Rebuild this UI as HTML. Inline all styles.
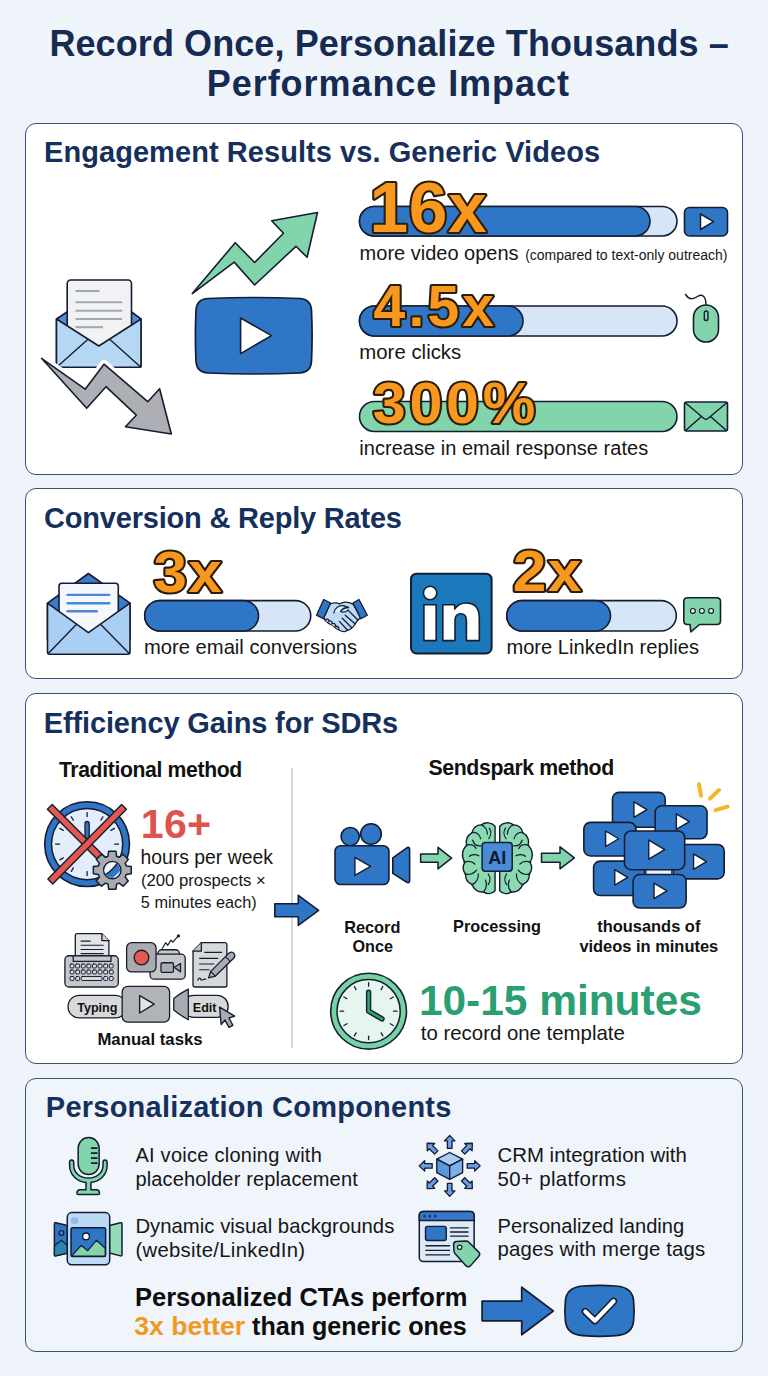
<!DOCTYPE html>
<html><head><meta charset="utf-8">
<style>
*{margin:0;padding:0;box-sizing:border-box}
html,body{width:768px;height:1376px;overflow:hidden}
body{background:#eff3fa;font-family:"Liberation Sans",sans-serif;position:relative;color:#161616}
.card{position:absolute;left:25px;width:718px;background:#fff;border:1.6px solid #3c5273;border-radius:11px}
.x{position:absolute;white-space:nowrap;line-height:1}
.t{font-weight:bold;color:#152b52;font-size:35px}
.h{font-weight:bold;color:#16305c;font-size:29px;left:46px}
.b{font-weight:bold}
.c{text-align:center;transform:translateX(-50%)}
svg{position:absolute;left:0;top:0;overflow:visible;font-family:"Liberation Sans",sans-serif}
</style></head><body>
<div class="x t" id="t1" style="left:49.4px;top:25.7px;font-size:36px;letter-spacing:.09px">Record Once, Personalize Thousands –</div>
<div class="x t" id="t2" style="left:206.8px;top:65.7px;font-size:36px;letter-spacing:.94px">Performance Impact</div>

<div class="card" style="top:123px;height:351.6px"></div>
<div class="card" style="top:488.4px;height:190.2px"></div>
<div class="card" style="top:692.8px;height:371.3px"></div>
<div class="card" style="top:1077.6px;height:274.6px;background:#f0f4fb"></div>

<div class="x h" id="h1" style="top:138.4px;left:44px;letter-spacing:.06px">Engagement Results vs. Generic Videos</div>
<div class="x h" id="h2" style="top:503.9px;left:44px;letter-spacing:-.2px">Conversion &amp; Reply Rates</div>
<div class="x h" id="h3" style="top:708.7px;left:43.8px;letter-spacing:-.14px">Efficiency Gains for SDRs</div>
<div class="x h" id="h4" style="top:1093.3px;left:45.8px;letter-spacing:.24px">Personalization Components</div>

<div class="x" id="s1a" style="left:359.6px;top:243.3px;font-size:20px">more video opens <span style="font-size:14px;margin-left:1px">(compared to text-only outreach)</span></div>
<div class="x" id="s1b" style="left:359.3px;top:341.7px;font-size:20.4px">more clicks</div>
<div class="x" id="s1c" style="left:359.3px;top:437.5px;font-size:20px;letter-spacing:.03px">increase in email response rates</div>
<div class="x" id="s2a" style="left:144px;top:637.2px;font-size:20.2px">more email conversions</div>
<div class="x" id="s2b" style="left:506.4px;top:637.2px;font-size:20.15px">more LinkedIn replies</div>

<div class="x b" style="left:58.9px;top:758.75px;font-size:21.2px;color:#111;letter-spacing:-0.36px;">Traditional method</div>
<div class="x b" style="left:428.5px;top:758.47px;font-size:21.3px;color:#111;letter-spacing:-0.4px;">Sendspark method</div>
<div class="x b" style="left:140.7px;top:804.32px;font-size:41.2px;color:#db554c;letter-spacing:0.3px;">16+</div>
<div class="x" style="left:140.6px;top:848.02px;font-size:19.35px;">hours per week</div>
<div class="x" style="left:141px;top:873.46px;font-size:16.7px;">(200 prospects ×</div>
<div class="x" style="left:140.8px;top:893.50px;font-size:16.3px;">5 minutes each)</div>
<div class="x b" style="left:97.4px;top:1032.02px;font-size:16.75px;color:#111;">Manual tasks</div>
<div class="x b c" style="left:372.3px;top:919.00px;font-size:16.3px;color:#111;">Record</div>
<div class="x b c" style="left:372.7px;top:938.39px;font-size:16.2px;color:#111;">Once</div>
<div class="x b c" style="left:497px;top:918.30px;font-size:16.3px;color:#111;">Processing</div>
<div class="x b c" style="left:648.8px;top:918.38px;font-size:16.45px;color:#111;">thousands of</div>
<div class="x b c" style="left:648.8px;top:938.28px;font-size:16.45px;color:#111;">videos in minutes</div>
<div class="x b" style="left:418.9px;top:979.62px;font-size:42.5px;color:#2a9f70;letter-spacing:-0.04px;">10-15 minutes</div>
<div class="x" style="left:420.8px;top:1023.13px;font-size:20.4px;">to record one template</div>
<div class="x" style="left:135.4px;top:1145.27px;font-size:20px;letter-spacing:0.26px;">AI voice cloning with</div>
<div class="x" style="left:135.4px;top:1169.27px;font-size:20px;letter-spacing:0.15px;">placeholder replacement</div>
<div class="x" style="left:135.4px;top:1215.92px;font-size:20.3px;letter-spacing:0.03px;">Dynamic visual backgrounds</div>
<div class="x" style="left:135.4px;top:1239.62px;font-size:20.3px;letter-spacing:0.3px;">(website/LinkedIn)</div>
<div class="x" style="left:497.5px;top:1144.93px;font-size:20.4px;">CRM integration with</div>
<div class="x" style="left:497.6px;top:1168.93px;font-size:20.4px;letter-spacing:0.35px;">50+ platforms</div>
<div class="x" style="left:497.6px;top:1216.09px;font-size:20.1px;">Personalized landing</div>
<div class="x" style="left:497.6px;top:1239.23px;font-size:20.4px;letter-spacing:0.12px;">pages with merge tags</div>
<div class="x b" style="left:135px;top:1285.01px;font-size:25.5px;color:#0d0d0d;">Personalized CTAs perform</div>
<div class="x b" style="left:134.2px;top:1312.95px;font-size:25.1px;color:#0d0d0d;"><span style="color:#f0991f;font-size:26.6px">3x better</span> than generic ones</div>
<svg width="768" height="1376" viewBox="0 0 768 1376">
<rect x="359.5" y="206.5" width="317.5" height="29.5" rx="14.75" fill="#d6e6f6" stroke="#141d31" stroke-width="1.6"/>
<rect x="359.5" y="206.5" width="290.5" height="29.5" rx="14.75" fill="#3076c7" stroke="#141d31" stroke-width="1.6"/>
<rect x="359.5" y="306" width="317.5" height="30" rx="15.0" fill="#d6e6f6" stroke="#141d31" stroke-width="1.6"/>
<rect x="359.5" y="306" width="163.5" height="30" rx="15.0" fill="#3076c7" stroke="#141d31" stroke-width="1.6"/>
<rect x="359.5" y="401.5" width="317.5" height="30.0" rx="15.0" fill="#82d5aa" stroke="#141d31" stroke-width="1.6"/>
<text transform="translate(369.6 231.6) scale(1 1)" font-size="69.5" font-weight="bold" letter-spacing="0.5" fill="#f9981e" stroke="#2a1d0c" stroke-width="4.2" stroke-linejoin="round" paint-order="stroke fill">16x</text>
<text transform="translate(373.5 325.5) scale(1 1)" font-size="57" font-weight="bold" letter-spacing="3.2" fill="#f9981e" stroke="#2a1d0c" stroke-width="4.2" stroke-linejoin="round" paint-order="stroke fill">4.5x</text>
<text transform="translate(372.8 422.7) scale(1.038 1)" font-size="57" font-weight="bold" letter-spacing="3.6" fill="#f9981e" stroke="#2a1d0c" stroke-width="4.2" stroke-linejoin="round" paint-order="stroke fill">300%</text>
<rect x="684.5" y="207.5" width="43" height="28.5" rx="5" fill="#3076c7" stroke="#141d31" stroke-width="1.6"/>
<polygon points="700.5,214 700.5,229.5 713.5,221.7" fill="#fff" stroke="#141d31" stroke-width="1.5" stroke-linejoin="round" />
<path d="M706 305 C706 296 702 293.5 697.5 296.5 C693 299.5 689 300 685.5 294.5" fill="none" stroke="#141d31" stroke-width="1.5" stroke-linecap="round"/>
<rect x="693.5" y="305" width="25" height="37" rx="12.5" fill="#82d5aa" stroke="#141d31" stroke-width="1.6"/>
<rect x="704.3" y="311" width="3.6" height="9.5" rx="1.8" fill="#82d5aa" stroke="#141d31" stroke-width="1.4"/>
<rect x="684.5" y="402" width="43" height="29" rx="2" fill="#82d5aa" stroke="#141d31" stroke-width="1.6"/>
<path d="M685 431 L701.5 416.5 M727 431 L710.5 416.5 M685 402.5 L704 418.5 Q706 420 708 418.5 L727 402.5" fill="none" stroke="#141d31" stroke-width="1.5" stroke-linejoin="round"/>
<polygon points="56.5,319 67,312 131.5,312 141,319 141,367 56.5,367" fill="#4f8fd6" stroke="#141d31" stroke-width="1.6" stroke-linejoin="round" />
<rect x="67.2" y="280" width="64.3" height="75" rx="3.5" fill="#f1f2f4" stroke="#141d31" stroke-width="1.6"/>
<line x1="75.5" y1="291" x2="99.5" y2="291" stroke="#a5a8ae" stroke-width="2.1"/>
<line x1="75.5" y1="302.3" x2="122.3" y2="302.3" stroke="#a5a8ae" stroke-width="2.1"/>
<line x1="75.5" y1="310.7" x2="122.3" y2="310.7" stroke="#a5a8ae" stroke-width="2.1"/>
<line x1="75.5" y1="319" x2="122.3" y2="319" stroke="#a5a8ae" stroke-width="2.1"/>
<line x1="75.5" y1="327.2" x2="103" y2="327.2" stroke="#a5a8ae" stroke-width="2.1"/>
<path d="M56.5 319 L98.8 346 L141 319 L141 365 Q141 367.3 139 367.3 L58.5 367.3 Q56.5 367.3 56.5 365 Z" fill="#b5d7f4" stroke="#141d31" stroke-width="1.6" stroke-linejoin="round"/>
<path d="M57.5 366.5 L88 339.3 M140 366.5 L109.7 339.3" fill="none" stroke="#141d31" stroke-width="1.4"/>
<polygon points="41.5,358.3 85.2,389.2 104,364.2 147.7,401.7 159.6,388.8 171.3,434 125.4,426.7 136.3,415.2 106,386.7 86.7,408.3" fill="#fff" stroke="#fff" stroke-width="8.5" stroke-linejoin="round" />
<polygon points="41.5,358.3 85.2,389.2 104,364.2 147.7,401.7 159.6,388.8 171.3,434 125.4,426.7 136.3,415.2 106,386.7 86.7,408.3" fill="#adafb4" stroke="#141d31" stroke-width="1.6" stroke-linejoin="round" />
<polygon points="192.3,293.6 235.2,242.7 254.6,262.5 283.5,233.3 271.7,220.8 317.5,212.5 307.1,257.3 296,246.3 254.6,285 234.2,262.1" fill="#82d5aa" stroke="#141d31" stroke-width="1.6" stroke-linejoin="round" />
<path d="M208 298.5 Q253.5 296.5 299.5 298.5 Q311 299 311.5 310.5 Q312.7 335.5 311.5 361 Q311 372.5 299.5 373 Q253.5 375 208 373 Q196.5 372.5 196 361 Q194.8 335.5 196 310.5 Q196.5 299 208 298.5 Z" fill="#3076c7" stroke="#141d31" stroke-width="1.7"/>
<polygon points="240.6,318 240.6,353.6 271.5,335.6" fill="#fff" stroke="#141d31" stroke-width="1.6" stroke-linejoin="round" />
<polygon points="47.5,603.2 88.4,573.5 130,603.2 130,640 47.5,640" fill="#3a7bcb" stroke="#141d31" stroke-width="1.6" stroke-linejoin="round" />
<path d="M59 635 L59 586.2 Q59 583.2 62 583.2 L115.3 583.2 Q118.3 583.2 118.3 586.2 L118.3 635 Z" fill="#f4f7fb" stroke="#141d31" stroke-width="1.6"/>
<line x1="67.6" y1="594.9" x2="109.2" y2="594.9" stroke="#4a88d2" stroke-width="2.4" stroke-linecap="round"/>
<line x1="67.6" y1="603.2" x2="109.2" y2="603.2" stroke="#4a88d2" stroke-width="2.4" stroke-linecap="round"/>
<line x1="67.6" y1="611.3" x2="96.7" y2="611.3" stroke="#4a88d2" stroke-width="2.4" stroke-linecap="round"/>
<path d="M47.5 603.2 L88.4 632.7 L130 603.2 L130 652 Q130 654.2 128 654.2 L49.5 654.2 Q47.5 654.2 47.5 652 Z" fill="#a9d0f4" stroke="#141d31" stroke-width="1.6" stroke-linejoin="round"/>
<path d="M48.5 653.3 L76.5 624.3 M129 653.3 L100.5 624.3" fill="none" stroke="#141d31" stroke-width="1.4"/>
<rect x="144.7" y="600.6" width="166.0" height="30.399999999999977" rx="15.199999999999989" fill="#d6e6f6" stroke="#141d31" stroke-width="1.6"/>
<rect x="144.7" y="600.6" width="113.80000000000001" height="30.399999999999977" rx="15.199999999999989" fill="#3076c7" stroke="#141d31" stroke-width="1.6"/>
<text transform="translate(153.6 591.5) scale(1.055 1)" font-size="57" font-weight="bold" letter-spacing="1.2" fill="#f9981e" stroke="#2a1d0c" stroke-width="4.2" stroke-linejoin="round" paint-order="stroke fill">3x</text>
<g stroke="#141d31" stroke-width="1.3" stroke-linejoin="round" stroke-linecap="round" fill="none">
<path d="M 329.6,604.4 C 333.5,601.9 337.0,602.7 339.8,603.8 C 343.3,601.5 348.2,601.5 353.4,604.4 L 360.5,617.5 C 357.9,620.0 356.6,621.4 355.4,623.4 C 353.8,626.9 349.5,630.0 345.2,631.4 C 342.5,632.1 340.5,630.8 339.0,630.0 C 336.4,629.0 334.5,627.3 332.9,625.5 C 329.6,624.1 326.7,622.2 325.1,620.0 L 323.6,617.9 Z" fill="#bfdbf6"/>
<path d="M 333.9,612.8 C 334.7,607.7 339.4,604.8 344.8,606.0 L 348.6,607.5 C 344.8,607.5 341.7,609.3 340.5,611.4 C 343.3,612.8 346.4,611.6 348.0,610.1" fill="#e4f0fb"/>
<path d="M 348.0,610.1 L 357.9,620.0"/><path d="M 345.2,615.2 L 355.0,623.8 M 342.3,618.3 L 351.5,627.5 M 339.4,621.4 L 347.6,630.2"/>
<path d="M 325.1,620.0 C 326.7,618.3 329.2,619.1 328.8,621.4 C 330.4,620.0 332.9,621.4 332.0,623.8 C 333.7,622.6 336.4,624.1 335.3,626.5 C 337.0,625.7 339.8,627.3 338.6,629.6" fill="#bfdbf6"/>
<polygon points="316.5,615.2 323.7,599.5 330.6,603 323.4,618.7" fill="#3076c7"/>
<polygon points="359,599.5 367.3,615.2 360.8,618.7 353,603" fill="#3076c7"/>
</g>
<rect x="411" y="573.7" width="80.6" height="79.8" rx="5.5" fill="#1b78ba" stroke="#141d31" stroke-width="2"/>
<g transform="translate(1.1 0)" fill="#fff" stroke="#141d31" stroke-width="1.6" stroke-linejoin="round"><circle cx="429" cy="593" r="6.7"/><rect x="422.8" y="604.8" width="12.3" height="35.8"/><path d="M441.7 640.6 L441.7 604.8 L453.6 604.8 L453.6 609 Q457.5 603 465 603 Q478.2 603 478.2 618 L478.2 640.6 L465.3 640.6 L465.3 620.5 Q465.3 613.8 459.7 613.8 Q453.9 613.8 453.9 620.5 L453.9 640.6 Z"/></g>
<rect x="506.8" y="600.6" width="169.49999999999994" height="30.399999999999977" rx="15.199999999999989" fill="#d6e6f6" stroke="#141d31" stroke-width="1.6"/>
<rect x="506.8" y="600.6" width="103.69999999999999" height="30.399999999999977" rx="15.199999999999989" fill="#3076c7" stroke="#141d31" stroke-width="1.6"/>
<text transform="translate(512.8 590.8) scale(1.06 1)" font-size="57" font-weight="bold" letter-spacing="1.2" fill="#f9981e" stroke="#2a1d0c" stroke-width="4.2" stroke-linejoin="round" paint-order="stroke fill">2x</text>
<path d="M687.5 597.8 L716.7 597.8 Q720.5 597.8 720.5 601.6 L720.5 620.7 Q720.5 624.5 716.7 624.5 L699.5 624.5 L690.8 631.8 L690 624.5 L687.5 624.5 Q683.8 624.5 683.8 620.7 L683.8 601.6 Q683.8 597.8 687.5 597.8 Z" fill="#82d5aa" stroke="#141d31" stroke-width="1.6" stroke-linejoin="round"/>
<circle cx="692.9" cy="610.9" r="2.4" fill="#eafaf2" stroke="#141d31" stroke-width="1.2"/>
<circle cx="701.9" cy="610.9" r="2.4" fill="#eafaf2" stroke="#141d31" stroke-width="1.2"/>
<circle cx="711.1" cy="610.9" r="2.4" fill="#eafaf2" stroke="#141d31" stroke-width="1.2"/>
<line x1="292" y1="768" x2="292" y2="1048" stroke="#c3cddb" stroke-width="1.5"/>
<circle cx="87.1" cy="844.1" r="42.4" fill="#3076c7" stroke="#141d31" stroke-width="1.6"/>
<circle cx="87.1" cy="844.1" r="35.6" fill="#e4eefa" stroke="#141d31" stroke-width="1.5"/>
<line x1="87.10" y1="816.60" x2="87.10" y2="812.60" stroke="#141d31" stroke-width="1.3" stroke-linecap="round"/>
<line x1="100.85" y1="820.28" x2="102.85" y2="816.82" stroke="#141d31" stroke-width="1.3" stroke-linecap="round"/>
<line x1="110.92" y1="830.35" x2="114.38" y2="828.35" stroke="#141d31" stroke-width="1.3" stroke-linecap="round"/>
<line x1="114.60" y1="844.10" x2="118.60" y2="844.10" stroke="#141d31" stroke-width="1.3" stroke-linecap="round"/>
<line x1="110.92" y1="857.85" x2="114.38" y2="859.85" stroke="#141d31" stroke-width="1.3" stroke-linecap="round"/>
<line x1="100.85" y1="867.92" x2="102.85" y2="871.38" stroke="#141d31" stroke-width="1.3" stroke-linecap="round"/>
<line x1="87.10" y1="871.60" x2="87.10" y2="875.60" stroke="#141d31" stroke-width="1.3" stroke-linecap="round"/>
<line x1="73.35" y1="867.92" x2="71.35" y2="871.38" stroke="#141d31" stroke-width="1.3" stroke-linecap="round"/>
<line x1="63.28" y1="857.85" x2="59.82" y2="859.85" stroke="#141d31" stroke-width="1.3" stroke-linecap="round"/>
<line x1="59.60" y1="844.10" x2="55.60" y2="844.10" stroke="#141d31" stroke-width="1.3" stroke-linecap="round"/>
<line x1="63.28" y1="830.35" x2="59.82" y2="828.35" stroke="#141d31" stroke-width="1.3" stroke-linecap="round"/>
<line x1="73.35" y1="820.28" x2="71.35" y2="816.82" stroke="#141d31" stroke-width="1.3" stroke-linecap="round"/>
<rect x="85.0" y="821.5" width="4.2" height="17" rx="2.1" fill="#3076c7" stroke="#141d31" stroke-width="1.3"/>
<polygon points="47.39583694396573,809.2041630560342 119.59583694396574,881.4041630560342 124.40416305603426,876.5958369439658 52.20416305603426,804.3958369439657" fill="#e2574f" stroke="#141d31" stroke-width="1.4" stroke-linejoin="round" />
<polygon points="121.57969133433089,804.4120917180747 47.879691334330886,879.1120917180748 52.72030866566911,883.8879082819252 126.42030866566911,809.1879082819252" fill="#e2574f" stroke="#141d31" stroke-width="1.4" stroke-linejoin="round" />
<path d="M108.66 851.25 L115.94 851.25 L116.61 856.25 L119.11 857.29 L123.12 854.22 L128.28 859.38 L125.21 863.39 L126.25 865.89 L131.25 866.56 L131.25 873.84 L126.25 874.51 L125.21 877.01 L128.28 881.02 L123.12 886.18 L119.11 883.11 L116.61 884.15 L115.94 889.15 L108.66 889.15 L107.99 884.15 L105.49 883.11 L101.48 886.18 L96.32 881.02 L99.39 877.01 L98.35 874.51 L93.35 873.84 L93.35 866.56 L98.35 865.89 L99.39 863.39 L96.32 859.38 L101.48 854.22 L105.49 857.29 L107.99 856.25 Z M120.89999999999999 870.2 A8.6 8.6 0 1 0 103.7 870.2 A8.6 8.6 0 1 0 120.89999999999999 870.2 Z" fill="#a9abb0" fill-rule="evenodd" stroke="#141d31" stroke-width="1.5" stroke-linejoin="round"/>
<clipPath id="gh"><circle cx="112.3" cy="870.2" r="7.9"/></clipPath>
<g clip-path="url(#gh)"><circle cx="112.3" cy="870.2" r="9" fill="#eef4fb"/><circle cx="87.1" cy="844.1" r="39" fill="none" stroke="#3076c7" stroke-width="6.8"/><circle cx="87.1" cy="844.1" r="35.6" fill="none" stroke="#141d31" stroke-width="1.4"/></g>
<polygon points="274.8,903.8 298.3,903.8 298.3,895.3 318.6,910.3 298.3,925.3 298.3,916.8 274.8,916.8" fill="#3076c7" stroke="#141d31" stroke-width="1.6" stroke-linejoin="round" />
<g stroke="#141d31" stroke-width="1.3" stroke-linejoin="round" stroke-linecap="round">
<path d="M 75.31,960.16 L 75.31,935.42 Q 75.31,933.59 77.14,933.59 L 101.88,933.59 L 108.91,940.62 L 108.91,960.16 Z" fill="#e4e5e7"/>
<path d="M 101.88,933.59 L 101.88,940.62 L 108.91,940.62" fill="#cfd0d3"/>
<path d="M 81.04,941.15 L 90.16,941.15 M 81.04,945.31 L 103.18,945.31 M 81.04,949.48 L 103.18,949.48 M 81.04,953.65 L 103.18,953.65" fill="none" stroke-width="1.1"/>
<rect x="64.9" y="955.73" width="53.38" height="31.25" rx="4" fill="#c6c7ca"/>
<path d="M 73.23,955.73 L 73.23,961.46 L 110.99,961.46 L 110.99,955.73" fill="none"/>
<rect x="70.1" y="964.06" width="3.9" height="3.9" rx="1" fill="#dcdddf" stroke-width="1"/>
<rect x="75.7" y="964.06" width="3.9" height="3.9" rx="1" fill="#dcdddf" stroke-width="1"/>
<rect x="81.3" y="964.06" width="3.9" height="3.9" rx="1" fill="#dcdddf" stroke-width="1"/>
<rect x="86.9" y="964.06" width="3.9" height="3.9" rx="1" fill="#dcdddf" stroke-width="1"/>
<rect x="92.5" y="964.06" width="3.9" height="3.9" rx="1" fill="#dcdddf" stroke-width="1"/>
<rect x="98.1" y="964.06" width="3.9" height="3.9" rx="1" fill="#dcdddf" stroke-width="1"/>
<rect x="103.7" y="964.06" width="3.9" height="3.9" rx="1" fill="#dcdddf" stroke-width="1"/>
<rect x="109.3" y="964.06" width="3.9" height="3.9" rx="1" fill="#dcdddf" stroke-width="1"/>
<rect x="70.1" y="970.05" width="3.9" height="3.9" rx="1" fill="#dcdddf" stroke-width="1"/>
<rect x="75.7" y="970.05" width="3.9" height="3.9" rx="1" fill="#dcdddf" stroke-width="1"/>
<rect x="81.3" y="970.05" width="3.9" height="3.9" rx="1" fill="#dcdddf" stroke-width="1"/>
<rect x="86.9" y="970.05" width="3.9" height="3.9" rx="1" fill="#dcdddf" stroke-width="1"/>
<rect x="92.5" y="970.05" width="3.9" height="3.9" rx="1" fill="#dcdddf" stroke-width="1"/>
<rect x="98.1" y="970.05" width="3.9" height="3.9" rx="1" fill="#dcdddf" stroke-width="1"/>
<rect x="103.7" y="970.05" width="3.9" height="3.9" rx="1" fill="#dcdddf" stroke-width="1"/>
<rect x="109.3" y="970.05" width="3.9" height="3.9" rx="1" fill="#dcdddf" stroke-width="1"/>
<rect x="70.1" y="976.56" width="3.9" height="3.9" rx="1" fill="#dcdddf" stroke-width="1"/>
<rect x="75.7" y="976.56" width="3.9" height="3.9" rx="1" fill="#dcdddf" stroke-width="1"/>
<rect x="103.7" y="976.56" width="3.9" height="3.9" rx="1" fill="#dcdddf" stroke-width="1"/>
<rect x="109.3" y="976.56" width="3.9" height="3.9" rx="1" fill="#dcdddf" stroke-width="1"/>
<rect x="81.3" y="976.56" width="20.70" height="3.9" rx="1" fill="#dcdddf" stroke-width="1"/>
<rect x="157.86" y="949.74" width="21.62" height="26.04" rx="4" fill="#c6c7ca"/>
<rect x="150.05" y="954.17" width="35.16" height="25.00" rx="4" fill="#c6c7ca"/>
<rect x="160.99" y="962.76" width="12.50" height="9.64" rx="1.5" fill="#a9abb0"/>
<path d="M 174.27,967.19 L 180.52,963.54 L 180.52,971.88 Z" fill="#a9abb0"/>
<path d="M 162.29,948.44 L 165.68,942.71 L 167.76,945.31 L 170.89,940.1 L 172.71,942.19 L 177.92,936.46" fill="none" stroke-width="1.2"/>
<circle cx="178.44" cy="935.94" r="1" fill="#141d31"/>
<rect x="126.61" y="942.71" width="29.43" height="29.17" rx="5" fill="#a9abb0"/>
<circle cx="141.46" cy="957.55" r="7.3" fill="#e9594f"/>
<path d="M 193.02,951.04 L 201.35,942.71 L 224.79,942.71 Q 226.88,942.71 226.88,944.79 L 226.88,984.9 Q 226.88,986.98 224.79,986.98 L 195.1,986.98 Q 193.02,986.98 193.02,984.9 Z" fill="#d7d8da"/>
<path d="M 193.02,951.04 L 201.35,951.04 L 201.35,942.71" fill="#bfc0c3"/>
<path d="M 204.74,952.34 L 221.67,952.34 M 199.53,958.33 L 217.76,958.33 M 199.53,964.06 L 213.85,964.06 M 199.53,969.79 L 209.17,969.79" fill="none" stroke-width="1.1"/>
<path d="M 197.71,980.21 C 199.01,977.08 200.83,977.86 200.83,979.69 C 201.35,980.99 203.44,978.65 206.04,979.17" fill="none" stroke-width="1.1"/>
<path d="M 208.65,977.86 L 210.73,971.35 L 228.96,953.12 Q 232.08,951.04 234.17,953.65 Q 235.73,956.25 233.65,958.33 L 215.42,976.04 Z" fill="#a9abb0"/>
<path d="M 210.73,971.35 L 215.42,976.04 M 225.57,956.51 L 230.26,961.46" fill="none" stroke-width="1.1"/>
<rect x="68.02" y="995.31" width="58.59" height="22.66" rx="11.33" fill="#d7d8da"/>
<rect x="182.6" y="995.31" width="45.58" height="22.14" rx="11.07" fill="#d7d8da"/>
<path d="M 173.75,998.44 Q 180.0,993.23 188.33,989.06 L 188.33,1019.79 Q 180.0,1015.1 173.75,1009.9 Z" fill="#a9abb0"/>
<rect x="122.19" y="986.46" width="47.39" height="35.68" rx="5.5" fill="#b1b3b7"/>
<path d="M 139.64,995.57 L 139.64,1013.02 L 154.22,1004.17 Z" fill="#e3e4e6" stroke-width="1.4"/>
<path d="M 219.58,1007.03 L 234.69,1016.15 L 228.96,1017.97 L 232.86,1025.26 L 228.96,1027.34 L 225.05,1020.05 L 221.15,1024.48 Z" fill="#a9abb0" stroke-width="1.4"/>
</g>
<text x="77.14" y="1011.59" font-size="12.6" font-weight="bold" fill="#111">Typing</text>
<text x="192.76" y="1011.59" font-size="12.6" font-weight="bold" fill="#111">Edit</text>
<g stroke="#141d31" stroke-width="1.6" stroke-linejoin="round" stroke-linecap="round">
<circle cx="350.2" cy="836.6" r="9.1" fill="#3076c7"/>
<circle cx="371" cy="834" r="10.3" fill="#3076c7"/>
<path d="M 392.81,857.81 L 406.48,848.05 Q 409.61,846.09 409.61,849.61 L 409.61,880.47 Q 409.61,883.98 406.48,882.03 L 392.81,873.44 Z" fill="#3076c7"/>
<rect x="335.0" y="845.7" width="53.91" height="38.87" rx="5.5" fill="#3076c7"/>
<path d="M 354.92,857.42 L 354.92,875.39 L 370.55,866.41 Z" fill="#fff" stroke-width="1.4"/>
</g>
<polygon points="420.6,853.95 438,853.95 438,847.35 451.6,858.1 438,868.85 438,862.25 420.6,862.25" fill="#82d5aa" stroke="#141d31" stroke-width="1.5" stroke-linejoin="round" />
<polygon points="541.5,853.3 560,853.3 560,846.8 574.4,857.8 560,868.8 560,862.3 541.5,862.3" fill="#82d5aa" stroke="#141d31" stroke-width="1.5" stroke-linejoin="round" />
<g stroke="#141d31" stroke-width="1.4" stroke-linejoin="round" stroke-linecap="round">
<path d="M495.07 826.17 A10.21 10.21 0 0 0 481.34 824.84 A9.06 9.06 0 0 0 472.04 832.81 A9.94 9.94 0 0 0 466.84 845.2 A12.77 12.77 0 0 0 464.96 862.36 A8.62 8.62 0 0 0 465.74 873.98 A9.11 9.11 0 0 0 472.15 884.49 A10.07 10.07 0 0 0 483.55 891.91 A8.56 8.56 0 0 0 495.07 890.8 Z" fill="#8bdab2"/>
<path d="M 481.12,824.62 C 484.88,826.39 487.65,830.26 487.32,834.14 M 471.6,832.59 C 476.03,831.92 479.9,834.14 480.68,838.56 M 466.07,845.2 C 470.49,844.1 474.37,845.2 476.03,848.52 M 472.71,840.22 C 473.82,844.1 477.14,846.31 481.01,845.76 M 463.85,862.36 C 468.28,860.7 472.71,861.8 474.92,864.02 M 469.39,856.27 C 471.6,854.06 476.03,854.06 478.8,855.72 M 464.74,874.2 C 469.39,875.09 473.82,873.43 476.58,870.11 M 471.6,885.05 C 476.03,882.83 478.8,878.41 478.24,873.98 M 483.55,892.24 C 486.54,888.37 487.1,883.94 485.44,880.07 M 488.2,873.98 C 490.42,877.3 490.42,881.73 488.2,884.49 M 489.31,828.05 C 491.52,831.37 490.97,835.8 488.76,838.56" fill="none" stroke-width="1.25"/>
<path d="M499.71 826.17 A10.21 10.21 0 0 1 513.44 824.84 A9.06 9.06 0 0 1 522.73 832.81 A9.95 9.95 0 0 1 527.94 845.2 A12.77 12.77 0 0 1 529.82 862.36 A8.62 8.62 0 0 1 529.04 873.98 A9.11 9.11 0 0 1 522.62 884.49 A10.07 10.07 0 0 1 511.22 891.91 A8.56 8.56 0 0 1 499.71 890.8 Z" fill="#8bdab2"/>
<path d="M 513.66,824.62 C 509.9,826.39 507.13,830.26 507.46,834.14 M 523.18,832.59 C 518.75,831.92 514.88,834.14 514.1,838.56 M 528.71,845.2 C 524.28,844.1 520.41,845.2 518.75,848.52 M 522.07,840.22 C 520.96,844.1 517.64,846.31 513.77,845.76 M 530.92,862.36 C 526.5,860.7 522.07,861.8 519.86,864.02 M 525.39,856.27 C 523.18,854.06 518.75,854.06 515.98,855.72 M 530.04,874.2 C 525.39,875.09 520.96,873.43 518.2,870.11 M 523.18,885.05 C 518.75,882.83 515.98,878.41 516.54,873.98 M 511.22,892.24 C 508.24,888.37 507.68,883.94 509.34,880.07 M 506.58,873.98 C 504.36,877.3 504.36,881.73 506.58,884.49 M 505.47,828.05 C 503.26,831.37 503.81,835.8 506.02,838.56" fill="none" stroke-width="1.25"/>
<rect x="482.12" y="842.44" width="30.10" height="28.77" rx="3.2" fill="#4a8bd8" stroke-width="1.5"/>
</g>
<text x="497.17" y="863.58" font-size="18" font-weight="bold" fill="#0c1730" text-anchor="middle">AI</text>
<rect x="612.5" y="792.34" width="52.70" height="34.95" rx="6.5" fill="#3076c7" stroke="#141d31" stroke-width="1.6"/><polygon points="633.9599999999999,801.78 633.9599999999999,817.28 646.9599999999999,809.53" fill="#fff" stroke="#141d31" stroke-width="1.4" stroke-linejoin="round" />
<rect x="655.18" y="805.81" width="51.85" height="32.94" rx="6.5" fill="#3076c7" stroke="#141d31" stroke-width="1.6"/><polygon points="676.36,813.81 676.36,829.31 689.36,821.56" fill="#fff" stroke="#141d31" stroke-width="1.4" stroke-linejoin="round" />
<rect x="583.85" y="822.42" width="52.14" height="33.52" rx="6.5" fill="#3076c7" stroke="#141d31" stroke-width="1.6"/><polygon points="605.61,831.0 605.61,846.5 618.61,838.75" fill="#fff" stroke="#141d31" stroke-width="1.4" stroke-linejoin="round" />
<rect x="673.23" y="844.48" width="50.98" height="34.37" rx="6.5" fill="#3076c7" stroke="#141d31" stroke-width="1.6"/><polygon points="693.55,853.91 693.55,869.41 706.55,861.66" fill="#fff" stroke="#141d31" stroke-width="1.4" stroke-linejoin="round" />
<rect x="593.59" y="861.09" width="50.99" height="34.38" rx="6.5" fill="#3076c7" stroke="#141d31" stroke-width="1.6"/><polygon points="614.77,869.67 614.77,885.17 627.77,877.42" fill="#fff" stroke="#141d31" stroke-width="1.4" stroke-linejoin="round" />
<rect x="646.01" y="867.39" width="25.78" height="9.17" fill="#e9f1fb" stroke="#141d31" stroke-width="1.2"/>
<rect x="633.12" y="874.55" width="53.00" height="33.52" rx="6.5" fill="#3076c7" stroke="#141d31" stroke-width="1.6"/><polygon points="654.02,883.13 654.02,898.63 667.02,890.88" fill="#fff" stroke="#141d31" stroke-width="1.4" stroke-linejoin="round" />
<rect x="624.53" y="831.01" width="60.15" height="38.67" rx="6.5" fill="#3076c7" stroke="#141d31" stroke-width="1.6"/><polygon points="648.7542000000001,840.0975 648.7542000000001,859.1625 664.7442,849.63" fill="#fff" stroke="#141d31" stroke-width="1.4" stroke-linejoin="round" />
<line x1="699.01" y1="784.32" x2="701.01" y2="795.78" stroke="#f5b52a" stroke-width="4" stroke-linecap="round"/>
<line x1="709.89" y1="798.65" x2="719.06" y2="790.05" stroke="#f5b52a" stroke-width="4" stroke-linecap="round"/>
<line x1="715.62" y1="810.1" x2="727.65" y2="806.67" stroke="#f5b52a" stroke-width="4" stroke-linecap="round"/>
<circle cx="368.6" cy="1011.2" r="37.9" fill="#76d1a3" stroke="#141d31" stroke-width="1.6"/>
<circle cx="368.6" cy="1011.2" r="31.6" fill="#e6f5ee" stroke="#141d31" stroke-width="1.5"/>
<line x1="368.60" y1="986.20" x2="368.60" y2="982.70" stroke="#141d31" stroke-width="1.3" stroke-linecap="round"/>
<line x1="381.10" y1="989.55" x2="382.85" y2="986.52" stroke="#141d31" stroke-width="1.3" stroke-linecap="round"/>
<line x1="390.25" y1="998.70" x2="393.28" y2="996.95" stroke="#141d31" stroke-width="1.3" stroke-linecap="round"/>
<line x1="393.60" y1="1011.20" x2="397.10" y2="1011.20" stroke="#141d31" stroke-width="1.3" stroke-linecap="round"/>
<line x1="390.25" y1="1023.70" x2="393.28" y2="1025.45" stroke="#141d31" stroke-width="1.3" stroke-linecap="round"/>
<line x1="381.10" y1="1032.85" x2="382.85" y2="1035.88" stroke="#141d31" stroke-width="1.3" stroke-linecap="round"/>
<line x1="368.60" y1="1036.20" x2="368.60" y2="1039.70" stroke="#141d31" stroke-width="1.3" stroke-linecap="round"/>
<line x1="356.10" y1="1032.85" x2="354.35" y2="1035.88" stroke="#141d31" stroke-width="1.3" stroke-linecap="round"/>
<line x1="346.95" y1="1023.70" x2="343.92" y2="1025.45" stroke="#141d31" stroke-width="1.3" stroke-linecap="round"/>
<line x1="343.60" y1="1011.20" x2="340.10" y2="1011.20" stroke="#141d31" stroke-width="1.3" stroke-linecap="round"/>
<line x1="346.95" y1="998.70" x2="343.92" y2="996.95" stroke="#141d31" stroke-width="1.3" stroke-linecap="round"/>
<line x1="356.10" y1="989.55" x2="354.35" y2="986.52" stroke="#141d31" stroke-width="1.3" stroke-linecap="round"/>
<path d="M368.6 992.3 L368.6 1011.2 L382 1018.8" fill="none" stroke="#141d31" stroke-width="5.4" stroke-linecap="round" stroke-linejoin="round"/>
<path d="M368.6 992.3 L368.6 1011.2 L382 1018.8" fill="none" stroke="#2fa173" stroke-width="2.6" stroke-linecap="round" stroke-linejoin="round"/>
<g stroke="#141d31" stroke-width="1.5" stroke-linejoin="round" stroke-linecap="round">
<path d="M 69.61,1162.23 Q 69.61,1159.88 71.6,1159.88 Q 73.71,1159.88 73.71,1162.23 L 73.71,1165.16 C 73.71,1172.77 80.16,1178.05 88.36,1178.05 C 96.56,1178.05 103.01,1172.77 103.01,1165.16 L 103.01,1162.23 Q 103.01,1159.88 105.0,1159.88 Q 107.11,1159.88 107.11,1162.23 L 107.11,1165.16 C 107.11,1175.12 99.49,1181.56 90.94,1182.38 L 90.94,1189.77 L 96.56,1189.77 Q 99.49,1190.0 99.49,1193.28 Q 99.49,1194.45 98.32,1194.45 L 78.4,1194.45 Q 76.88,1194.45 76.88,1193.28 Q 76.88,1190.0 80.16,1189.77 L 86.02,1189.77 L 86.02,1182.38 C 77.23,1181.56 69.61,1175.12 69.61,1165.16 Z" fill="#82d5aa"/>
<rect x="78.16" y="1137.62" width="20.98" height="36.91" rx="10.49" fill="#82d5aa"/>
<path d="M 90.94,1148.16 L 97.5,1148.16 M 90.94,1153.09 L 97.5,1153.09 M 90.94,1158.13 L 97.5,1158.13 M 90.94,1163.16 L 97.5,1163.16" fill="none" stroke-width="1.7" stroke-linecap="butt"/>
</g>
<g stroke="#141d31" stroke-width="1.5" stroke-linejoin="round" stroke-linecap="round">
<path d="M 54.38,1223.75 Q 54.38,1222.34 55.78,1222.7 L 67.5,1225.51 L 67.5,1253.05 L 55.78,1255.86 Q 54.38,1256.21 54.38,1254.81 Z" fill="#3076c7"/>
<path d="M 54.61,1245.43 L 61.41,1240.16 L 67.5,1245.43 L 67.5,1253.05 L 55.78,1255.86 Q 54.38,1256.21 54.38,1254.81 Z" fill="#2d86b0" stroke-width="1.2"/>
<circle cx="61.41" cy="1232.89" r="2.4" fill="#3f82d2" stroke-width="1.2"/>
<path d="M 109.45,1225.51 L 120.59,1222.7 Q 121.99,1222.34 121.99,1223.75 L 121.99,1254.81 Q 121.99,1256.21 120.59,1255.86 L 109.45,1253.05 Z" fill="#93dcb8"/>
<rect x="67.27" y="1212.62" width="42.42" height="52.15" rx="4.5" fill="#bcdaf6"/>
<rect x="71.02" y="1217.31" width="7.38" height="6.44" rx="2.5" fill="#8fbcea" stroke="none"/>
<rect x="71.02" y="1227.85" width="34.57" height="28.71" rx="1.5" fill="#3076c7"/>
<path d="M 71.48,1256.09 L 81.33,1245.43 L 87.77,1250.7 L 96.56,1240.16 L 105.23,1248.36 L 105.23,1256.09 Z" fill="#82d5aa" stroke-width="1.3"/>
<circle cx="86.02" cy="1236.41" r="3.4" fill="#fff" stroke-width="1.4"/>
</g>
<g stroke="#141d31" stroke-width="1.4" stroke-linejoin="round" stroke-linecap="round">
<polygon points="447.4,1148.4 447.4,1140.9 444.5,1140.9 449.7,1135.4 454.9,1140.9 452.0,1140.9 452.0,1148.4" fill="#6a9fe2" stroke="#141d31" stroke-width="1.3" stroke-linejoin="round" />
<polygon points="461.51,1150.84 466.81,1145.54 464.76,1143.48 472.33,1143.27 472.12,1150.84 470.06,1148.79 464.76,1154.09" fill="#6a9fe2" stroke="#141d31" stroke-width="1.3" stroke-linejoin="round" />
<polygon points="467.2,1163.6 474.7,1163.6 474.7,1160.7 480.2,1165.9 474.7,1171.1 474.7,1168.2 467.2,1168.2" fill="#6a9fe2" stroke="#141d31" stroke-width="1.3" stroke-linejoin="round" />
<polygon points="464.76,1177.71 470.06,1183.01 472.12,1180.96 472.33,1188.53 464.76,1188.32 466.81,1186.26 461.51,1180.96" fill="#6a9fe2" stroke="#141d31" stroke-width="1.3" stroke-linejoin="round" />
<polygon points="452.0,1183.4 452.0,1190.9 454.9,1190.9 449.7,1196.4 444.5,1190.9 447.4,1190.9 447.4,1183.4" fill="#6a9fe2" stroke="#141d31" stroke-width="1.3" stroke-linejoin="round" />
<polygon points="437.89,1180.96 432.59,1186.26 434.64,1188.32 427.07,1188.53 427.28,1180.96 429.34,1183.01 434.64,1177.71" fill="#6a9fe2" stroke="#141d31" stroke-width="1.3" stroke-linejoin="round" />
<polygon points="432.2,1168.2 424.7,1168.2 424.7,1171.1 419.2,1165.9 424.7,1160.7 424.7,1163.6 432.2,1163.6" fill="#6a9fe2" stroke="#141d31" stroke-width="1.3" stroke-linejoin="round" />
<polygon points="434.64,1154.09 429.34,1148.79 427.28,1150.84 427.07,1143.27 434.64,1143.48 432.59,1145.54 437.89,1150.84" fill="#6a9fe2" stroke="#141d31" stroke-width="1.3" stroke-linejoin="round" />
<polygon points="449.7,1152.5 462.59999999999997,1159.2 449.7,1165.9 436.8,1159.2" fill="#a8cdf3" stroke="#141d31" stroke-width="1.4" stroke-linejoin="round" />
<polygon points="436.8,1159.2 449.7,1165.9 449.7,1179.3000000000002 436.8,1172.6000000000001" fill="#5b97df" stroke="#141d31" stroke-width="1.4" stroke-linejoin="round" />
<polygon points="462.59999999999997,1159.2 449.7,1165.9 449.7,1179.3000000000002 462.59999999999997,1172.6000000000001" fill="#7db0ea" stroke="#141d31" stroke-width="1.4" stroke-linejoin="round" />
</g>
<g stroke="#141d31" stroke-width="1.5" stroke-linejoin="round" stroke-linecap="round">
<rect x="419.3" y="1211.48" width="54.84" height="50.04" rx="4" fill="#dde9f7"/>
<path d="M 419.3,1220.51 L 419.3,1215.47 Q 419.3,1211.48 423.28,1211.48 L 470.16,1211.48 Q 474.14,1211.48 474.14,1215.47 L 474.14,1220.51 Z" fill="#3878c9"/>
<rect x="423.39" y="1214.77" width="2.6" height="2.8" rx="0.9" fill="#1c3a68" stroke="none"/>
<rect x="428.53999999999996" y="1214.77" width="2.6" height="2.8" rx="0.9" fill="#1c3a68" stroke="none"/>
<rect x="433.93" y="1214.77" width="2.6" height="2.8" rx="0.9" fill="#1c3a68" stroke="none"/>
<rect x="425.51" y="1226.37" width="20.74" height="14.06" rx="2" fill="#3076c7" stroke-width="1.4"/>
<path d="M 450.47,1227.89 L 468.05,1227.89 M 450.47,1231.99 L 468.05,1231.99 M 450.47,1236.09 L 468.05,1236.09 M 425.86,1245.7 L 449.53,1245.7 M 425.86,1250.39 L 449.53,1250.39 M 425.86,1254.84 L 449.53,1254.84" fill="none" stroke-width="1.4"/>
<path d="M 456.56,1241.6 L 465.94,1241.02 Q 467.7,1241.02 468.87,1242.19 L 478.83,1252.15 Q 480.59,1254.14 478.83,1256.25 L 470.63,1265.63 Q 468.28,1267.97 465.94,1265.63 L 455.39,1253.91 Q 453.98,1252.5 453.98,1250.98 L 453.63,1244.53 Q 453.63,1241.84 456.56,1241.6 Z" fill="#82d5aa"/>
<circle cx="459.61" cy="1247.23" r="2.2" fill="#e9f7f0" stroke-width="1.2"/>
</g>
<polygon points="482.1,1301.2 521.7,1301.2 521.7,1287.2 553.3,1311 521.7,1334.8 521.7,1320.8 482.1,1320.8" fill="#3076c7" stroke="#141d31" stroke-width="1.7" stroke-linejoin="round" />
<path d="M583 1286 Q599.5 1284.6 616 1286 Q632.6 1287.2 633.6 1301 Q634.6 1310.8 633.6 1320.6 Q632.6 1334.4 616 1335.6 Q599.5 1337 583 1335.6 Q566.4 1334.4 565.4 1320.6 Q564.4 1310.8 565.4 1301 Q566.4 1287.2 583 1286 Z" fill="#3076c7" stroke="#141d31" stroke-width="1.7"/>
<path d="M585.3 1311.6 L594.9 1320.8 L613.6 1301.2" fill="none" stroke="#141d31" stroke-width="7.2" stroke-linecap="round" stroke-linejoin="round"/>
<path d="M585.3 1311.6 L594.9 1320.8 L613.6 1301.2" fill="none" stroke="#fff" stroke-width="4.2" stroke-linecap="round" stroke-linejoin="round"/>
</svg>
</body></html>
